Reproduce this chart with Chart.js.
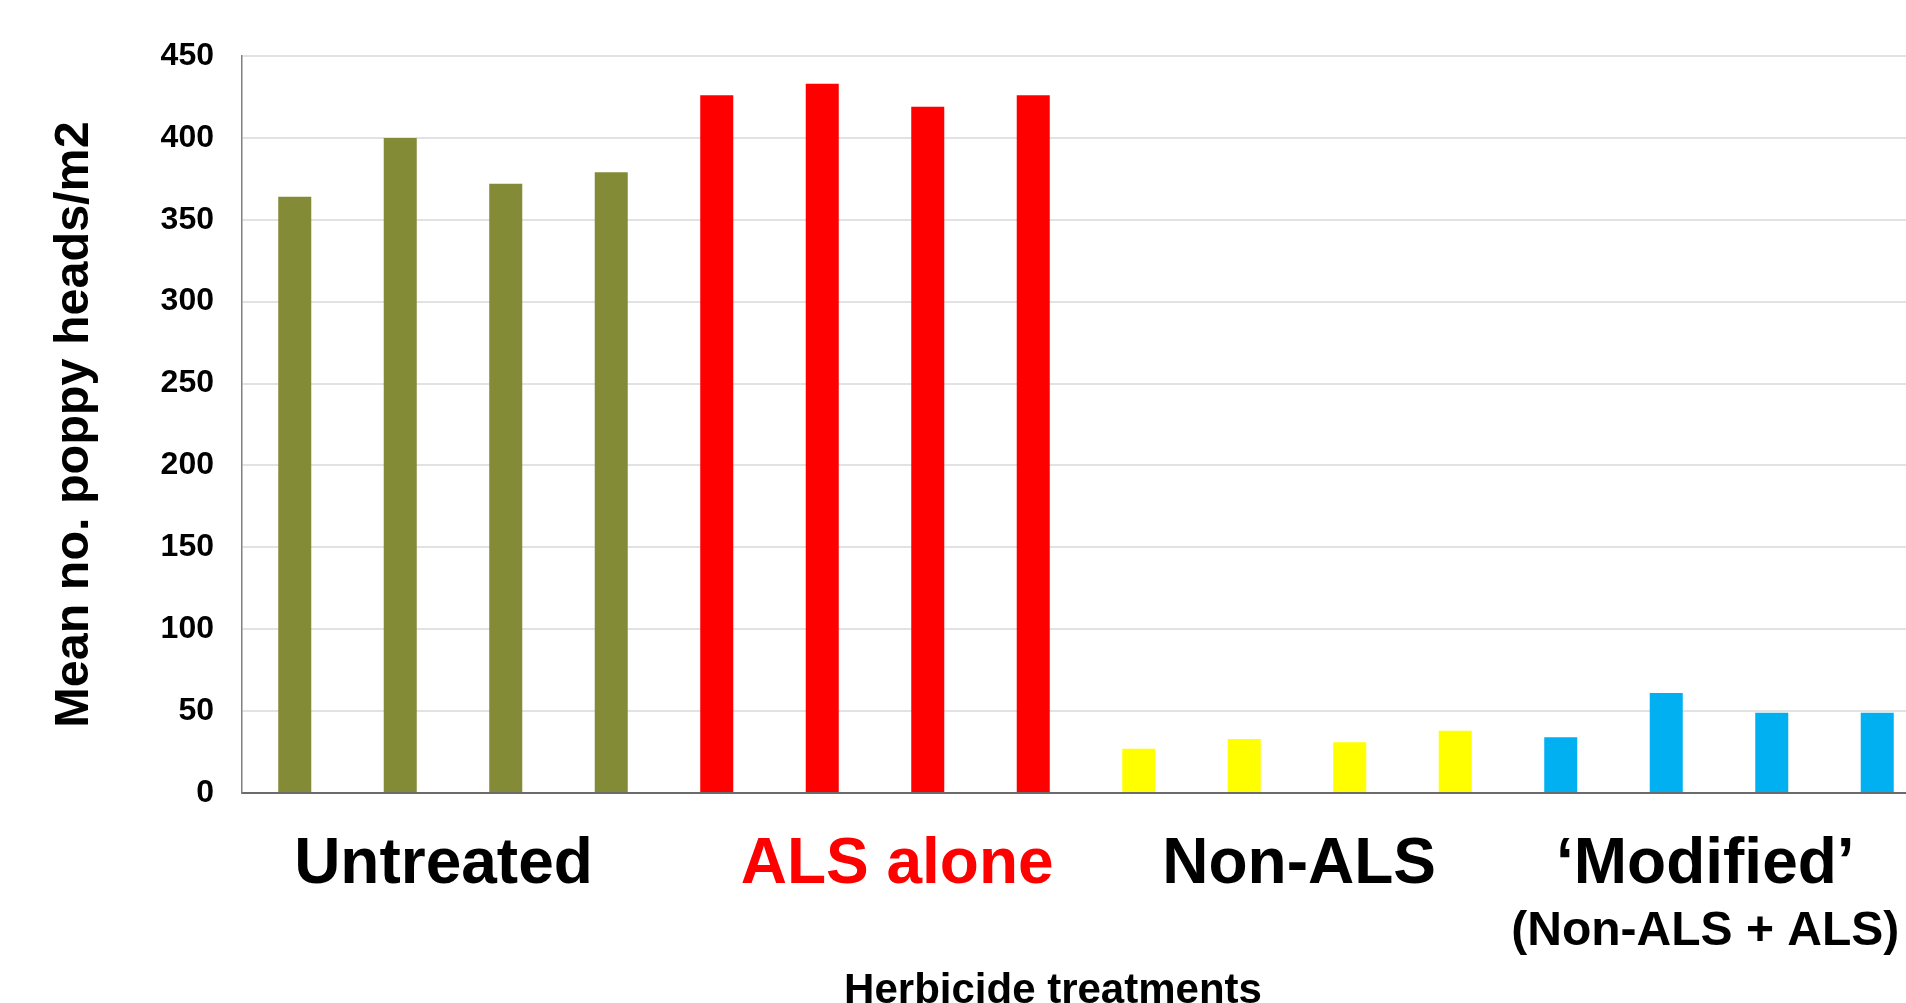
<!DOCTYPE html>
<html>
<head>
<meta charset="utf-8">
<script src="https://cdn.jsdelivr.net/npm/chart.js@4"></script>
<style>
  html, body { margin: 0; padding: 0; background: #fff; overflow: hidden; }
  #wrap { width: 1906px; height: 1003px; overflow: hidden; }
</style>
</head>
<body>
<div id="wrap">
  <canvas id="poppyChart" width="1930" height="1003"></canvas>
</div>
<script>
// data
const untreated = [364, 400, 372, 379];
const alsAlone = [426, 433, 419, 426];
const nonAls = [27, 33, 31, 38];
const modified = [34, 61, 49, 49];

const groupNames = ['Untreated', 'ALS alone', 'Non-ALS', '\u2018Modified\u2019'];
const groupSubNames = ['', '', '', '(Non-ALS + ALS)'];
const groupColors = ['#848b37', '#ff0000', '#ffff00', '#00b0f0'];
const groupTextColors = ['#000000', '#ff0000', '#000000', '#000000'];
// where the group labels sit, in bar index units
const groupLabelAt = [1.41, 5.71, 9.52, 13.37];

const yTicks = [0, 50, 100, 150, 200, 250, 300, 350, 400, 450];
const yTitle = 'Mean no. poppy heads/m2';
const xTitle = 'Herbicide treatments';

const font = '"Liberation Sans", Arial, sans-serif';

// build bars
const groups = [untreated, alsAlone, nonAls, modified];
const values = [];
const barColors = [];
const labels = [];
groups.forEach((g, gi) => {
  g.forEach((v, i) => {
    values.push(v);
    barColors.push(groupColors[gi]);
    labels.push(groupNames[gi] + ' ' + (i + 1));
  });
});

// group labels + axis titles
const textPlugin = {
  id: 'textPlugin',
  afterDraw(chart) {
    const ctx = chart.ctx;
    const x = chart.scales.x;
    const area = chart.chartArea;
    ctx.save();
    ctx.textAlign = 'center';
    ctx.textBaseline = 'alphabetic';
    groupNames.forEach((name, i) => {
      const px = x.getPixelForValue(groupLabelAt[i]);
      ctx.fillStyle = groupTextColors[i];
      ctx.font = 'bold 64px ' + font;
      ctx.fillText(name, px, area.bottom + 90);
      if (groupSubNames[i]) {
        ctx.font = 'bold 48px ' + font;
        ctx.fillText(groupSubNames[i], px, area.bottom + 152);
      }
    });
    ctx.fillStyle = '#000';
    ctx.font = 'bold 42px ' + font;
    ctx.fillText(xTitle, 1053, area.bottom + 210);

    ctx.translate(88, (area.top + area.bottom) / 2);
    ctx.rotate(-Math.PI / 2);
    ctx.font = 'bold 48.5px ' + font;
    ctx.fillText(yTitle, 0, 0);
    ctx.restore();
  }
};

const ctx = document.getElementById('poppyChart').getContext('2d');
const poppyChart = new Chart(ctx, {
  type: 'bar',
  data: {
    labels: labels,
    datasets: [{
      data: values,
      backgroundColor: barColors,
      borderWidth: 0,
      barPercentage: 0.313,
      categoryPercentage: 1.0
    }]
  },
  options: {
    responsive: false,
    animation: false,
    layout: { padding: { top: 56, right: 0, bottom: 0, left: 0 } },
    plugins: {
      legend: { display: false },
      tooltip: { enabled: false }
    },
    scales: {
      x: {
        ticks: { display: false },
        grid: { display: false, drawTicks: false },
        border: { display: true, color: '#6a6a6a', width: 2 },
        afterFit(scale) { scale.height = 210; }
      },
      y: {
        min: 0,
        max: 450,
        afterBuildTicks(scale) { scale.ticks = yTicks.map(v => ({ value: v })); },
        ticks: {
          color: '#000',
          padding: 28,
          font: { family: font, size: 32, weight: 'bold' }
        },
        grid: { color: '#e2e2e2', lineWidth: 2, drawTicks: false },
        border: { display: true, color: '#808080', width: 1.5 },
        afterFit(scale) { scale.width = 242; }
      }
    }
  },
  plugins: [textPlugin]
});
</script>
</body>
</html>
